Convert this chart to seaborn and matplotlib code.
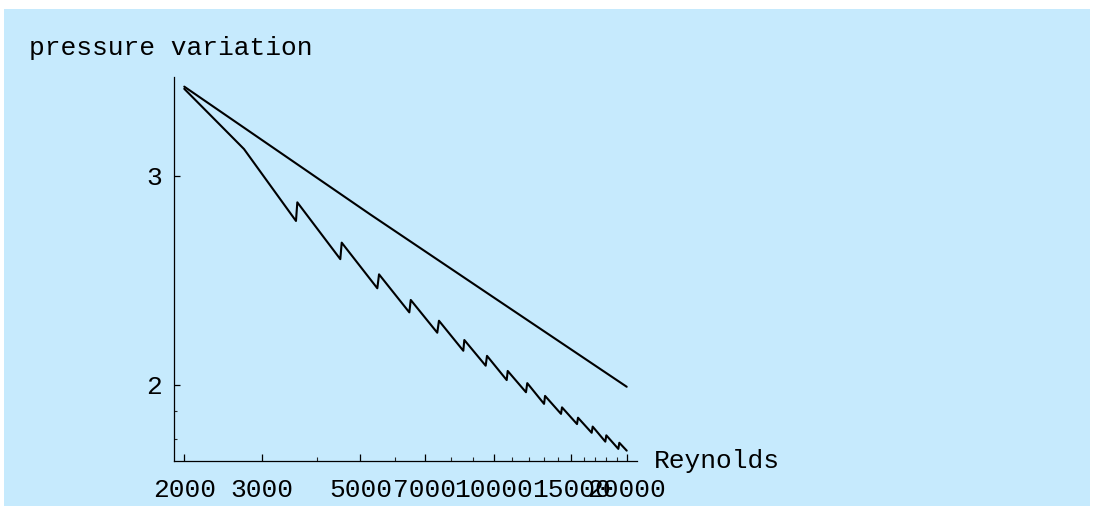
import matplotlib
matplotlib.use("Agg")
import matplotlib.pyplot as plt
from matplotlib.patches import Rectangle
from matplotlib.ticker import FixedLocator, FixedFormatter, NullFormatter
import numpy as np
import pandas as pd
import seaborn as sns

# Smooth pressure-variation curve
re_smooth = [2000, 5258, 9818, 20000]
p_smooth = [3.565, 2.784, 2.381, 1.993]

# Stepped (sawtooth) pressure-variation curve
re_steps = [2000, 2729, 3577, 3602, 4505, 4538, 5462, 5511, 6452, 6500,
            7462, 7528, 8545, 8590, 9600, 9666, 10710, 10766, 11840, 11920,
            13008, 13076, 14208, 14282, 15442, 15522, 16666, 16754, 17892,
            17986, 19144, 19246, 20000]
p_steps = [3.55, 3.159, 2.748, 2.849, 2.552, 2.635, 2.412, 2.478, 2.302, 2.358,
           2.213, 2.265, 2.137, 2.182, 2.076, 2.116, 2.019, 2.055, 1.972, 2.007,
           1.928, 1.958, 1.891, 1.915, 1.854, 1.877, 1.823, 1.845, 1.792,
           1.814, 1.767, 1.788, 1.761]

x_major = [2000, 3000, 5000, 7000, 10000, 15000, 20000]
x_minor = [4000, 6000, 8000, 9000, 11000, 12000, 13000, 14000,
           16000, 17000, 18000, 19000]
y_major = [2, 3]
y_minor = [1.8, 1.9]

sns.set_theme(style="ticks")
mono = ["Liberation Mono", "DejaVu Sans Mono"]
plt.rcParams["font.family"] = mono

W, H, DPI = 1094, 515, 100
fig = plt.figure(figsize=(W / DPI, H / DPI), dpi=DPI, facecolor="white")
bg = "#c6eafd"
fig.patches.append(Rectangle((4 / W, 9 / H), (1090 - 4) / W, (506 - 9) / H,
                             transform=fig.transFigure, facecolor=bg,
                             edgecolor="none", zorder=-10))

ax = fig.add_axes([173.5 / W, 1 - 460.7 / H, (637 - 173.5) / W, (460.7 - 77.3) / H])
ax.set_facecolor("none")

df_smooth = pd.DataFrame({"Reynolds": re_smooth, "pressure": p_smooth})
df_steps = pd.DataFrame({"Reynolds": re_steps, "pressure": p_steps})
sns.lineplot(data=df_smooth, x="Reynolds", y="pressure", ax=ax, color="black",
             lw=1.5, estimator=None, sort=False)
sns.lineplot(data=df_steps, x="Reynolds", y="pressure", ax=ax, color="black",
             lw=1.5, estimator=None, sort=False)

ax.set_xscale("log")
ax.set_yscale("log")
ax.set_xlim(1891, 21100)
ax.set_ylim(1.727, 3.63)

fs = 18.9
ax.xaxis.set_major_locator(FixedLocator(x_major))
ax.xaxis.set_major_formatter(FixedFormatter([str(v) for v in x_major]))
ax.xaxis.set_minor_locator(FixedLocator(x_minor))
ax.xaxis.set_minor_formatter(NullFormatter())
ax.yaxis.set_major_locator(FixedLocator(y_major))
ax.yaxis.set_major_formatter(FixedFormatter([str(v) for v in y_major]))
ax.yaxis.set_minor_locator(FixedLocator(y_minor))
ax.yaxis.set_minor_formatter(NullFormatter())

ax.tick_params(axis="x", which="major", direction="in", length=5, width=0.9,
               pad=12.3, labelsize=fs, colors="black")
ax.tick_params(axis="x", which="minor", direction="in", length=3, width=0.8)
ax.tick_params(axis="y", which="major", direction="in", length=4, width=0.9,
               pad=8.3, labelsize=fs, colors="black")
ax.tick_params(axis="y", which="minor", direction="in", length=2.5, width=0.8)

for s in ("top", "right"):
    ax.spines[s].set_visible(False)
for s in ("left", "bottom"):
    ax.spines[s].set_color("black")
    ax.spines[s].set_linewidth(0.9)

ax.set_xlabel("")
ax.set_ylabel("")

fig.text(29 / W, 1 - 55 / H, "pressure variation", fontsize=fs,
         family=mono, ha="left", va="baseline", color="black")
fig.text(654 / W, 1 - 468 / H, "Reynolds", fontsize=fs,
         family=mono, ha="left", va="baseline", color="black")

fig.savefig("out.png", dpi=DPI, facecolor=fig.get_facecolor())
